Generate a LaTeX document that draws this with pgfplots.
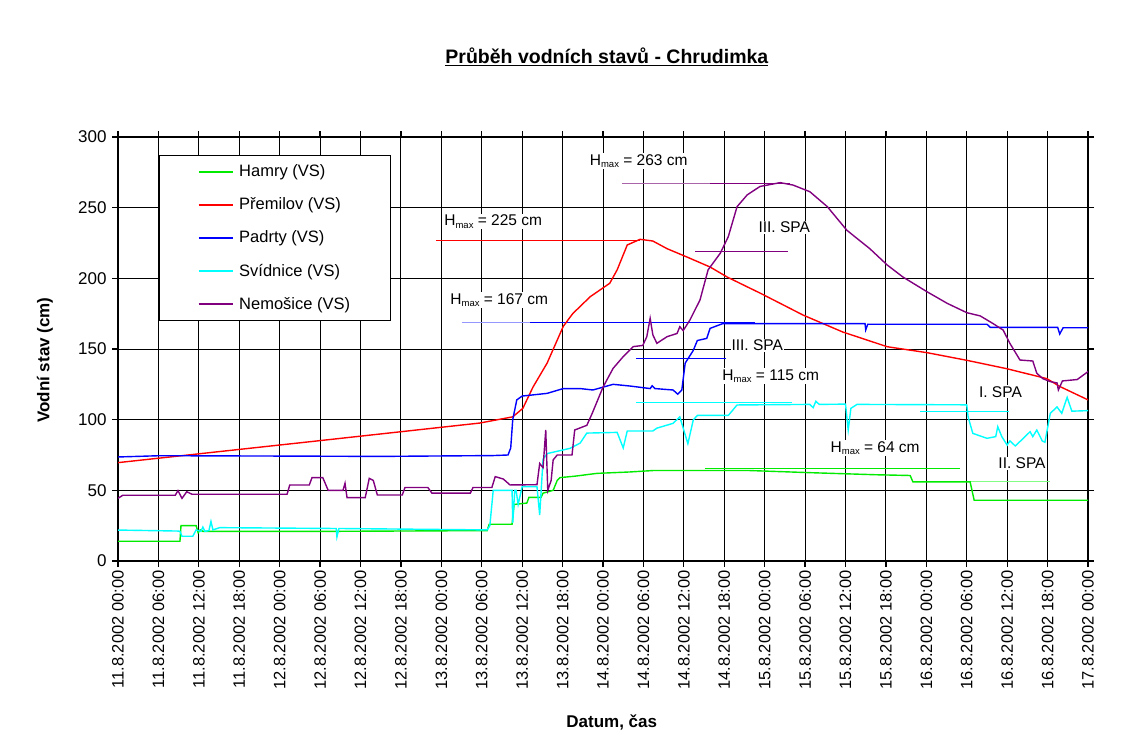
\documentclass[border=0pt]{standalone}
\usepackage{fontspec}
\setmainfont{Liberation Sans}
\usepackage{pgfplots}
\pgfplotsset{compat=1.18}
\definecolor{cgreen}{RGB}{0,235,0}
\definecolor{cred}{RGB}{255,0,0}
\definecolor{cblue}{RGB}{0,0,255}
\definecolor{ccyan}{RGB}{0,255,255}
\definecolor{cpurple}{RGB}{128,0,128}
\definecolor{lpurple}{RGB}{170,100,170}
\definecolor{lblue}{RGB}{150,150,255}
\definecolor{lgreen}{RGB}{130,255,130}
\newcommand{\Hmax}{H\raisebox{-0.3ex}{\fontsize{9.5}{10}\selectfont max}}
\begin{document}
\begin{tikzpicture}[x=1pt,y=1pt]
\useasboundingbox (0,0) rectangle (1134,752);
\begin{axis}[
  at={(118pt,191pt)}, anchor=south west, scale only axis,
  width=970pt, height=424pt,
  xmin=0, xmax=144, ymin=0, ymax=300,
  xtick={0,6,...,144}, ytick={0,50,...,300},
  xticklabels={11.8.2002 00:00,11.8.2002 06:00,11.8.2002 12:00,11.8.2002 18:00,
    12.8.2002 00:00,12.8.2002 06:00,12.8.2002 12:00,12.8.2002 18:00,
    13.8.2002 00:00,13.8.2002 06:00,13.8.2002 12:00,13.8.2002 18:00,
    14.8.2002 00:00,14.8.2002 06:00,14.8.2002 12:00,14.8.2002 18:00,
    15.8.2002 00:00,15.8.2002 06:00,15.8.2002 12:00,15.8.2002 18:00,
    16.8.2002 00:00,16.8.2002 06:00,16.8.2002 12:00,16.8.2002 18:00,
    17.8.2002 00:00},
  /pgf/number format/assume math mode=true,
  grid=major, major grid style={black, line width=0.9pt},
  axis line style={black, line width=1.8pt},
  tick style={black, line width=1.3pt}, tick align=outside, major tick length=6pt,
  tick label style={font=\fontsize{16.5}{18}\selectfont},
  xticklabel style={rotate=90, anchor=east},
  yticklabel style={font=\fontsize{17}{18}\selectfont, xshift=-2pt},
  xlabel={\textbf{Datum, čas}},
  xlabel style={at={(axis description cs:0.509,-0.38)}, anchor=center, font=\fontsize{17}{20}\selectfont},
  ylabel={\textbf{Vodní stav (cm)}},
  ylabel style={at={(axis description cs:-0.0753,0.474)}, anchor=center, rotate=0, font=\fontsize{17}{20}\selectfont},
  title={\textbf{\underline{Průběh vodních stavů - Chrudimka}}},
  title style={at={(axis description cs:0.504,1.175)}, anchor=center, font=\fontsize{19.5}{22}\selectfont},
  legend style={at={(axis description cs:0.0423,0.9575)}, anchor=north west,
    draw=black, line width=1pt, fill=white, font=\fontsize{16.5}{20}\selectfont,
    inner xsep=38pt, inner ysep=7.5pt, row sep=15.5pt, legend cell align=left},
  legend image code/.code={\draw[#1, line width=2pt] (0pt,0pt) -- (34pt,0pt); \path (38pt,0pt);},
  every axis plot/.append style={line width=1.4pt},
]
% reference lines
\addplot[cred, line width=1pt, forget plot] coordinates {(47.2,227) (77.5,227)};
\addplot[lpurple, line width=1pt, forget plot] coordinates {(74.8,267) (87.9,267)};
\addplot[cpurple, line width=1pt, forget plot] coordinates {(87.9,267) (99.8,267)};
\addplot[cpurple, line width=1pt, forget plot] coordinates {(85.7,219) (99.5,219)};
\addplot[lblue, line width=1pt, forget plot] coordinates {(51.1,169) (61.2,169)};
\addplot[cblue, line width=1pt, forget plot] coordinates {(61.2,169) (94.6,169)};
\addplot[cblue, line width=1pt, forget plot] coordinates {(76.9,143.6) (90.2,143.6)};
\addplot[ccyan, line width=1pt, forget plot] coordinates {(76.9,111.8) (100,111.8)};
\addplot[ccyan, line width=1pt, forget plot] coordinates {(119.1,106) (132.3,106)};
\addplot[cgreen, line width=1pt, forget plot] coordinates {(87.1,65.8) (125.0,65.8)};
\addplot[lgreen, line width=1pt, forget plot] coordinates {(118.0,56.6) (138.4,56.6)};
% data
\addplot[cgreen] coordinates {
(0,14) (9.2,14) (9.35,25) (11.6,25) (11.9,20) (12.2,22) (12.6,21) (32.4,21) (54.8,21.5)
(55.1,26) (58.5,26) (58.8,40) (60.7,41) (61.0,45) (62.8,45) (63.1,48) (64.6,50) (65.2,57)
(65.6,59) (67.8,60) (71.1,62) (76.0,63) (79.4,64) (93.8,64) (102.7,62.5) (112.7,61)
(117.6,60.5) (118.0,56) (126.5,56) (127.1,43) (144,43)};
\addlegendentry{Hamry (VS)}
\addplot[cred] coordinates {
(0,69.6) (28.5,84.4) (53.7,97.6) (58.6,102) (60.1,108) (61.6,123) (63.7,140) (66.1,166)
(67.5,175) (70.1,187) (73.0,196.5) (74.1,206) (75.6,223.6) (77.5,227.6) (79.4,226.4)
(81.5,221) (84.5,215) (87.9,208) (90.4,201) (93.4,194) (95.3,189.6) (98.3,182.3)
(101.7,174) (107.6,162) (114.2,151.6) (120.1,147.4) (126.0,142) (132.0,136) (137.9,129)
(139.8,123.5) (144,114)};
\addlegendentry{Přemilov (VS)}
\addplot[cblue] coordinates {
(0,73.6) (6.2,74.5) (27,74.2) (38.9,74) (55.7,74.6) (57.9,75) (58.3,80) (58.6,100)
(59.2,114) (60.0,116.7) (63.7,118.6) (66.1,122) (68.6,122) (70.5,121) (73.5,125)
(76.0,123.8) (79.0,122) (79.3,124) (79.7,122) (82.4,121) (83.1,118) (83.7,121) (84.2,140)
(85.4,149) (86.0,156) (87.4,157.5) (87.9,164.6) (89.8,168) (110.9,168) (111.0,163.5)
(111.3,167.5) (129.0,167.5) (129.5,165.3) (139.5,165.3) (139.8,160.6) (140.3,165) (144,165)};
\addlegendentry{Padrty (VS)}
\addplot[ccyan] coordinates {
(0,21.9) (8.8,21.2) (9.2,21) (9.5,17.5) (11.1,17.5) (11.6,22) (12.3,21) (12.6,24) (12.9,21)
(13.5,21.5) (13.8,28) (14.1,22) (15.1,23.6) (32.4,23) (32.5,17) (32.8,23) (54.8,22)
(55.2,25) (55.7,50) (58.5,50) (58.6,27) (58.9,50) (59.1,50) (59.4,40) (60,52.6) (62.2,52.6)
(62.6,32.5) (63.1,72) (63.7,76) (67.1,79.7) (68.6,83.4) (69.6,90.5) (74.1,91) (75.0,80)
(75.6,92) (79.4,92) (80.0,94) (82.4,97.4) (83.4,102) (84.6,83) (85.4,99.8) (86.0,103)
(90.6,103) (91.9,110.4) (102.7,110.8) (103.2,108.5) (103.6,113) (104.1,110.8) (108.0,111)
(108.4,92.7) (108.8,108) (109.7,110.8) (126.0,110.5) (126.2,102) (126.9,90.3) (129.0,86.8)
(130.3,88) (130.6,95) (131.2,88) (132.0,82) (132.4,85) (133.2,81.4) (134.4,86.8) (135.4,91.5)
(135.8,88) (136.4,92.7) (137.2,85) (137.6,84) (138.4,104.5) (139.4,109) (140.1,104.5)
(140.9,115.8) (141.6,106) (144,106.4)};
\addlegendentry{Svídnice (VS)}
\addplot[cpurple] coordinates {
(0,44.3) (0.7,46.5) (8.5,46.5) (8.9,49.8) (9.5,44.3) (10.2,49) (11.0,47.2) (25.1,47.2)
(25.5,53.8) (28.4,53.8) (28.8,59) (30.4,59) (31.2,50) (33.4,50) (33.7,55) (34.0,44.8)
(36.7,44.8) (37.3,58.5) (37.9,57) (38.5,46.7) (42.2,46.7) (42.6,52) (46.0,52) (46.6,48)
(52.3,48) (52.7,52) (55.5,52) (56.0,59.7) (57.2,58) (58.2,53.8) (62.2,54) (62.6,69)
(63.1,66) (63.5,92.7) (63.8,50) (64.3,57) (64.6,71.5) (65.2,75) (67.4,75) (67.8,92.7)
(69.6,96) (70.4,104.5) (72.0,123) (73.5,136.3) (75.0,144.6) (76.5,151.7) (77.9,152.5)
(78.5,158.7) (79.0,171.7) (79.4,160) (80.0,154) (81.5,158.7) (83.0,161) (83.4,165.8)
(83.9,163) (84.9,170.5) (86.4,184.7) (87.6,206) (89.4,217.7) (90.6,229.5) (91.9,250.7)
(93.4,259) (95.3,265) (98.3,267.7) (100.2,266) (102.7,261.3) (105.3,250.7) (108.2,234)
(111.6,221) (114.2,209.4) (116.5,201) (120.1,190.5) (123.1,182.3) (126.0,175.7)
(128.0,173.4) (129.9,168) (131.4,163.4) (132.4,154) (133.9,142.2) (135.8,141.5)
(136.4,132.8) (137.3,129) (138.4,126.9) (139.4,126) (139.6,121) (140.2,127.4)
(142.4,128.4) (144,134)};
\addlegendentry{Nemošice (VS)}
% labels
\begin{scope}[every node/.style={fill=white, inner sep=1pt, font=\fontsize{15.5}{18}\selectfont}]
\node at (axis cs:77.3,283) {\Hmax{} = 263 cm};
\node at (axis cs:55.7,240) {\Hmax{} = 225 cm};
\node at (axis cs:56.6,184.7) {\Hmax{} = 167 cm};
\node at (axis cs:98.9,236.3) {III. SPA};
\node at (axis cs:94.9,152.8) {III. SPA};
\node at (axis cs:96.9,130.9) {\Hmax{} = 115 cm};
\node at (axis cs:131.0,119.6) {I. SPA};
\node at (axis cs:112.4,80) {\Hmax{} = 64 cm};
\node at (axis cs:134.2,69.3) {II. SPA};
\end{scope}
\end{axis}
\end{tikzpicture}
\end{document}
